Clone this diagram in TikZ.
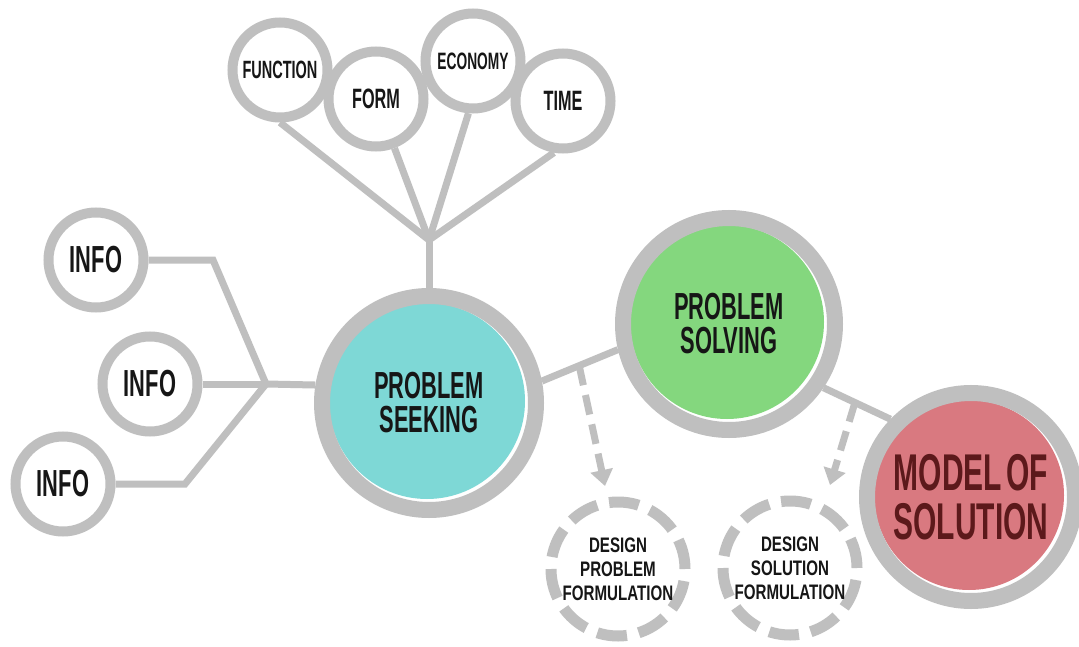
\documentclass[tikz,border=0pt]{standalone}
\usepackage{fontspec}
\newfontfamily\condfont[FakeStretch=0.58]{Liberation Sans}
\newfontfamily\widecondfont[FakeStretch=0.72]{Liberation Sans}
\usetikzlibrary{arrows.meta,calc}

\definecolor{ringgray}{RGB}{191,191,191}
\definecolor{inkblack}{RGB}{22,22,22}
\definecolor{seekfill}{RGB}{126,216,214}
\definecolor{solvefill}{RGB}{132,215,126}
\definecolor{modelfill}{RGB}{217,121,128}
\definecolor{modeltext}{RGB}{92,25,27}

\pgfdeclarelayer{paper}
\pgfdeclarelayer{links}
\pgfsetlayers{paper,links,main}

\begin{document}
\begin{tikzpicture}[x=1pt,y=-1pt,
  disc/.style 2 args={path picture={\fill[#1] ($(path picture bounding box.center)+(-2pt,2pt)$) circle[radius=#2];}},
  hub/.style={circle, draw=ringgray, line width=16pt, fill=white, inner sep=0pt,
    align=center, text=inkblack, font=\condfont\bfseries\fontsize{37.7pt}{34pt}\selectfont},
  leaf/.style={circle, draw=ringgray, line width=10pt, fill=white, minimum size=95pt,
    inner sep=0pt, text=inkblack, font=\condfont\bfseries\fontsize{37.7pt}{32pt}\selectfont},
  formnode/.style={circle, draw=ringgray, line width=11pt, dash pattern=on 30pt off 12.1pt,
    fill=white, minimum size=134pt, inner sep=0pt, align=center, text=inkblack,
    font=\widecondfont\bfseries\fontsize{21pt}{24pt}\selectfont},
  link/.style={draw=ringgray, line width=7pt},
  dasharrow/.style={draw=ringgray, line width=7pt, dash pattern=on 20pt off 10pt,
    -{Triangle[width=22pt,length=16pt]}}
]
\begin{pgfonlayer}{paper}
  \fill[white] (0,0) rectangle (1079,647);
\end{pgfonlayer}
\useasboundingbox (0,0) rectangle (1079,647);

% main stages
\node[hub, minimum size=214pt, disc={seekfill}{98pt}] (ps) at (429,403) {PROBLEM\\SEEKING};
\node[hub, minimum size=212pt, disc={solvefill}{97pt}] (sv) at (729,324) {PROBLEM\\SOLVING};
\node[hub, minimum size=208pt, disc={modelfill}{95pt}, text=modeltext,
  font=\condfont\bfseries\fontsize{51.7pt}{49pt}\selectfont] (ms) at (971,497)
  {\spaceskip=0.08em\relax MODEL OF\\SOLUTION};

% criteria
\node[leaf, font=\condfont\bfseries\fontsize{25pt}{25pt}\selectfont] (fn) at (280,70) {FUNCTION};
\node[leaf, font=\condfont\bfseries\fontsize{28pt}{28pt}\selectfont] (fm) at (376,99) {FORM};
\node[leaf, font=\condfont\bfseries\fontsize{23.7pt}{24pt}\selectfont] (ec) at (473,61) {ECONOMY};
\node[leaf, font=\condfont\bfseries\fontsize{28pt}{28pt}\selectfont] (tm) at (563,101) {TIME};

% information sources
\node[leaf] (i1) at (96,260) {INFO};
\node[leaf] (i2) at (150,384) {INFO};
\node[leaf] (i3) at (63,484) {INFO};

% formulations
\node[formnode] (dp) at (618,569) {DESIGN\\PROBLEM\\FORMULATION};
\node[formnode] (ds) at (790,568) {DESIGN\\SOLUTION\\FORMULATION};

% junctions and bends
\coordinate (tj) at (429,240);
\coordinate (lj) at (266,384);
\coordinate (lb1) at (213,260);
\coordinate (lb3) at (185,484);
\coordinate (t1) at (605,486);
\coordinate (t2) at (830,485);

\begin{pgfonlayer}{links}
  \draw[link] (ps.north) -- (tj);
  \draw[link] (tj) -- (fn.south);
  \draw[link] (tj) -- (fm);
  \draw[link] (tj) -- (ec.-95);
  \draw[link] (tj) -- (tm.-100);

  \draw[link] (i1.east) -- (lb1) -- (lj);
  \draw[link] (i2.east) -- (lj);
  \draw[link] (i3.east) -- (lb3) -- (lj);
  \draw[link] (lj) -- (ps.171);

  \draw[link] (ps.11) -- (sv.193) coordinate[pos=0.49] (a1);
  \draw[link] (sv.-34) -- (ms.136) coordinate[pos=0.47] (a2);

  \draw[dasharrow] (a1) -- (t1);
  \draw[dasharrow] (a2) -- (t2);
\end{pgfonlayer}
\end{tikzpicture}
\end{document}
